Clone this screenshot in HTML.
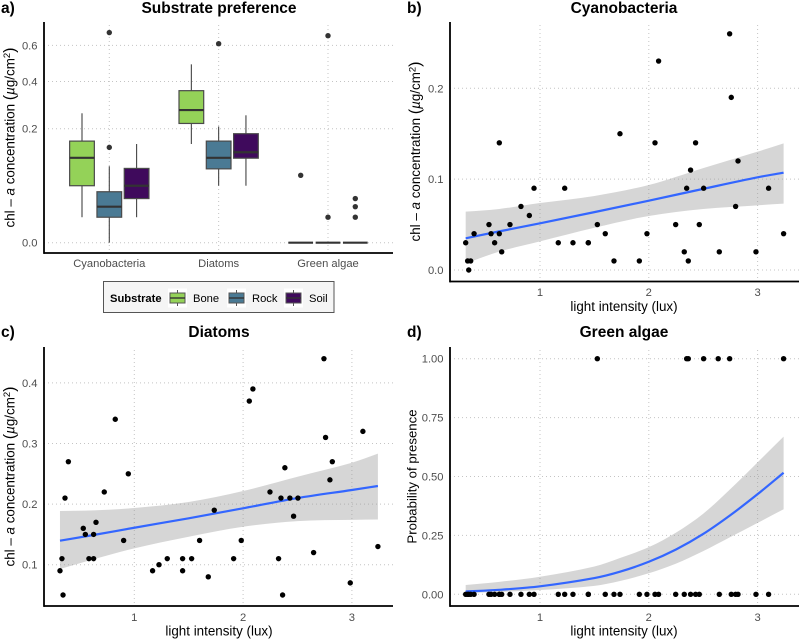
<!DOCTYPE html>
<html lang="en">
<head>
<meta charset="utf-8">
<title>Chlorophyll-a concentration panels</title>
<style>
html,body{margin:0;padding:0;background:#fff;}
svg{display:block;font-family:"Liberation Sans",sans-serif;}
.title{font-size:15.5px;font-weight:bold;fill:#000;text-anchor:middle;}
.tag{font-size:15.5px;font-weight:bold;fill:#000;}
.tick{font-size:11.2px;fill:#4d4d4d;}
.axt{font-size:13.4px;fill:#000;text-anchor:middle;}
.paren{font-size:16px;}
.leg{font-size:11.2px;fill:#000;}
</style>
</head>
<body>
<svg id="chart" xmlns="http://www.w3.org/2000/svg" width="800" height="639" viewBox="0 0 800 639">
  <rect x="0" y="0" width="800" height="639" fill="#fff"/>
  <g id="panel-a"></g>
  <g id="panel-b"></g>
  <g id="panel-c"></g>
  <g id="panel-d"></g>

  <text class="tag" x="1" y="13">a)</text>
  <text class="title" x="219" y="13">Substrate preference</text>
  <text class="axt" transform="translate(14.5,137.5) rotate(-90)">chl – <tspan font-style="italic">a</tspan> concentration <tspan class="paren">(</tspan><tspan font-style="italic">µ</tspan>g/cm<tspan font-size="9.5" dy="-4.5">2</tspan><tspan class="paren" dy="4.5">)</tspan></text>

  <text class="tag" x="407" y="13">b)</text>
  <text class="title" x="624" y="13">Cyanobacteria</text>
  <text class="axt" transform="translate(420,151.5) rotate(-90)">chl – <tspan font-style="italic">a</tspan> concentration <tspan class="paren">(</tspan><tspan font-style="italic">µ</tspan>g/cm<tspan font-size="9.5" dy="-4.5">2</tspan><tspan class="paren" dy="4.5">)</tspan></text>
  <text class="axt" x="624" y="311">light intensity (lux)</text>

  <text class="tag" x="1" y="337">c)</text>
  <text class="title" x="219" y="337">Diatoms</text>
  <text class="axt" transform="translate(14.5,476.5) rotate(-90)">chl – <tspan font-style="italic">a</tspan> concentration <tspan class="paren">(</tspan><tspan font-style="italic">µ</tspan>g/cm<tspan font-size="9.5" dy="-4.5">2</tspan><tspan class="paren" dy="4.5">)</tspan></text>
  <text class="axt" x="219" y="635.5">light intensity (lux)</text>

  <text class="tag" x="407" y="337">d)</text>
  <text class="title" x="624" y="337">Green algae</text>
  <text class="axt" font-size="13.2" style="font-size:13.2px" transform="translate(416.5,476.5) rotate(-90)">Probability of presence</text>
  <text class="axt" x="624" y="635.5">light intensity (lux)</text>

  <g id="legend"></g>
</svg>

<script>
// ---- Panel a data (indexed [group][substrate]) ----
const groups = ['Cyanobacteria', 'Diatoms', 'Green algae'];
const substrates = ['Bone', 'Rock', 'Soil'];
const substrateColors = ['#94d258', '#4a7a94', '#3f0a5c'];
const boxLow = [[0.01, 0, 0.01], [0.15, 0.05, 0.05], [0, 0, 0]];
const boxQ1 = [[0.05, 0.01, 0.03], [0.219, 0.084, 0.11], [0, 0, 0]];
const boxMedian = [[0.111, 0.02, 0.05], [0.271, 0.111, 0.126], [0, 0, 0]];
const boxQ3 = [[0.159, 0.04, 0.085], [0.356, 0.159, 0.183], [0, 0, 0]];
const boxHigh = [[0.258, 0.09, 0.15], [0.49, 0.208, 0.25], [0, 0, 0]];
const outlierGroup = [0, 0, 1, 2, 2, 2, 2, 2, 2];
const outlierSubstrate = [1, 1, 1, 0, 1, 1, 2, 2, 2];
const outlierValue = [0.68, 0.14, 0.61, 0.07, 0.66, 0.01, 0.03, 0.02, 0.01];
const ticksA = [0, 0.2, 0.4, 0.6];
const tickLabelsA = ['0.0', '0.2', '0.4', '0.6'];

// ---- Shared scatter data ----
const light = [0.317, 0.335, 0.345, 0.363, 0.394, 0.531, 0.55, 0.583, 0.626, 0.626, 0.648, 0.724, 0.825, 0.902, 0.945, 1.168, 1.227, 1.303, 1.444, 1.444, 1.527, 1.6, 1.68, 1.735, 1.913, 1.983, 2.057, 2.09, 2.247, 2.326, 2.348, 2.363, 2.384, 2.43, 2.464, 2.504, 2.648, 2.743, 2.758, 2.798, 2.82, 2.985, 3.101, 3.239];
const cyanoValues = [0.03, 0.01, 0, 0.01, 0.04, 0.05, 0.04, 0.03, 0.04, 0.14, 0.02, 0.05, 0.07, 0.06, 0.09, 0.03, 0.09, 0.03, 0.03, 0.03, 0.05, 0.04, 0.01, 0.15, 0.01, 0.04, 0.14, 0.23, 0.05, 0.02, 0.09, 0.01, 0.11, 0.14, 0.05, 0.09, 0.02, 0.26, 0.19, 0.07, 0.12, 0.02, 0.09, 0.04];
const diatomValues = [0.09, 0.11, 0.05, 0.21, 0.27, 0.16, 0.15, 0.11, 0.15, 0.11, 0.17, 0.22, 0.34, 0.14, 0.25, 0.09, 0.10, 0.11, 0.11, 0.09, 0.11, 0.14, 0.08, 0.19, 0.11, 0.14, 0.37, 0.39, 0.22, 0.11, 0.21, 0.05, 0.26, 0.21, 0.18, 0.21, 0.12, 0.44, 0.31, 0.24, 0.27, 0.07, 0.32, 0.13];
const greenPresence = [0, 0, 0, 0, 0, 0, 0, 0, 0, 0, 0, 0, 0, 0, 0, 0, 0, 0, 0, 0, 1, 0, 0, 0, 0, 0, 0, 0, 0, 0, 1, 1, 0, 0, 0, 1, 0, 1, 0, 0, 0, 0, 0, 1];
const extraPresentLight = [2.638];

// ---- Fitted curves ----
const fitLightBC = [0.317, 0.625, 1, 1.5, 2, 2.5, 3, 3.239];
const cyanoFit = [0.0349, 0.0425, 0.0514, 0.0637, 0.0763, 0.0893, 0.102, 0.1071];
const cyanoUpper = [0.0642, 0.0672, 0.0737, 0.0815, 0.0936, 0.1122, 0.1303, 0.1394];
const cyanoLower = [0.0073, 0.0202, 0.0315, 0.0465, 0.0595, 0.0672, 0.0712, 0.073];
const diatomFit = [0.1396, 0.149, 0.161, 0.1766, 0.1931, 0.21, 0.2233, 0.2299];
const diatomUpper = [0.1886, 0.1897, 0.1936, 0.2035, 0.2216, 0.2452, 0.2683, 0.2832];
const diatomLower = [0.0929, 0.109, 0.127, 0.1462, 0.1627, 0.172, 0.174, 0.1745];
const fitLightD = [0.317, 0.625, 1, 1.5, 1.735, 2, 2.25, 2.5, 2.75, 3, 3.239];
const greenFit = [0.012, 0.019, 0.034, 0.069, 0.096, 0.138, 0.19, 0.256, 0.336, 0.425, 0.516];
const greenUpper = [0.0395, 0.053, 0.0747, 0.118, 0.154, 0.2, 0.262, 0.342, 0.447, 0.56, 0.669];
const greenLower = [0.0055, 0.0105, 0.0183, 0.036, 0.0565, 0.0891, 0.13, 0.183, 0.243, 0.303, 0.361];

// ---- Tick arrays ----
const lightTicks = [1, 2, 3];
const lightTickLabels = ['1', '2', '3'];
const ticksB = [0, 0.1, 0.2];
const tickLabelsB = ['0.0', '0.1', '0.2'];
const ticksC = [0.1, 0.2, 0.3, 0.4];
const tickLabelsC = ['0.1', '0.2', '0.3', '0.4'];
const ticksD = [0, 0.25, 0.5, 0.75, 1];
const tickLabelsD = ['0.00', '0.25', '0.50', '0.75', '1.00'];

// ---- Axis functions ----
const xA = g => 109.3 + g * 109.35;
const yA = v => 242.7 - Math.sqrt(v) * 254.8;
const xLeft = v => 134.3 + (v - 1) * 108.8;
const xRight = v => 540 + (v - 1) * 108.8;
const yB = v => 270 - v * 908.5;
const yC = v => 564.7 - (v - 0.1) * 606;
const yD = v => 594.3 - v * 235.6;

const NS = 'http://www.w3.org/2000/svg';
function mk(parent, tag, props) {
  const el = document.createElementNS(NS, tag);
  for (const k in props) el.setAttribute(k, props[k]);
  parent.appendChild(el);
  return el;
}

// Smooth curve segments through [x, y] screen points, with tangents from
// finite differences so unevenly spaced readings do not cause wiggles.
function curveSegments(p) {
  const slope = i => {
    const a = p[Math.max(i - 1, 0)], b = p[Math.min(i + 1, p.length - 1)];
    return (b[1] - a[1]) / (b[0] - a[0]);
  };
  let d = '';
  for (let i = 0; i < p.length - 1; i++) {
    const p1 = p[i], p2 = p[i + 1];
    const dx = (p2[0] - p1[0]) / 3;
    d += ' C' + (p1[0] + dx) + ' ' + (p1[1] + slope(i) * dx) + ' ' +
      (p2[0] - dx) + ' ' + (p2[1] - slope(i + 1) * dx) + ' ' + p2[0] + ' ' + p2[1];
  }
  return d;
}

function drawFrame(g, prefix, left, right, top, bottom, xTicks, xLabels, xs, yTicks, yLabels, ys, labelY) {
  yTicks.forEach((t, i) => {
    const gl = mk(g, 'line', {x1: left, x2: right, y1: ys(t), y2: ys(t), stroke: '#c4c4c4', 'stroke-width': 1, 'stroke-dasharray': '1 3'});
    
    
    const lb = mk(g, 'text', {x: left - 6.5, y: ys(t) + 4, 'text-anchor': 'end', class: 'tick'});
    lb.textContent = yLabels[i];
    
    
  });
  xTicks.forEach((t, i) => {
    const gl = mk(g, 'line', {x1: xs(t), x2: xs(t), y1: top, y2: bottom, stroke: '#c4c4c4', 'stroke-width': 1, 'stroke-dasharray': '1 3'});
    
    
    const lb = mk(g, 'text', {x: xs(t), y: labelY, 'text-anchor': 'middle', class: 'tick'});
    lb.textContent = xLabels[i];
    
    
  });
}

function drawAxes(g, prefix, left, right, top, bottom) {
  const ya = mk(g, 'line', {x1: left, x2: left, y1: top, y2: bottom + 0.9, stroke: '#000', 'stroke-width': 1.8});
  
  
  const xa = mk(g, 'line', {x1: left, x2: right, y1: bottom, y2: bottom, stroke: '#000', 'stroke-width': 1.8});
  
  
}

function drawFit(g, prefix, fx, fit, upper, lower, xs, ys) {
  const upperPts = fx.map((x, i) => [xs(x), ys(upper[i])]);
  const lowerPts = fx.map((x, i) => [xs(x), ys(lower[i])]);
  const fitPts = fx.map((x, i) => [xs(x), ys(fit[i])]);
  // The lower edge is traced right-to-left; negate x for the tangent helper by rebuilding in reverse.
  const lowerRev = lowerPts.slice().reverse();
  const bandPath = 'M' + upperPts[0][0] + ' ' + upperPts[0][1] + curveSegments(upperPts) +
    ' L' + lowerRev[0][0] + ' ' + lowerRev[0][1] + curveSegments(lowerRev) + ' Z';
  const band = mk(g, 'path', {d: bandPath, fill: '#999999', 'fill-opacity': 0.4});
  
  
  const linePath = 'M' + fitPts[0][0] + ' ' + fitPts[0][1] + curveSegments(fitPts);
  const line = mk(g, 'path', {d: linePath, fill: 'none', stroke: '#3366FF', 'stroke-width': 2.2, 'stroke-linejoin': 'round'});
  
  
}

function drawPoints(g, prefix, px, py, xs, ys) {
  px.forEach((x, i) => {
    const c = mk(g, 'circle', {cx: xs(x), cy: ys(py[i]), r: 2.7, fill: '#000'});
    
    
  });
}

// ---- Panel a ----
const pa = document.getElementById('panel-a');
drawFrame(pa, 'panel-a', 44, 393, 25, 253, [0, 1, 2], groups, xA, ticksA, tickLabelsA, yA, 267);
const offset = 27.3, boxW = 24.7;
groups.forEach((grp, gi) => {
  substrates.forEach((sub, si) => {
    const cx = xA(gi) + (si - 1) * offset;
    const whisk = mk(pa, 'line', {x1: cx, x2: cx, y1: yA(boxLow[gi][si]), y2: yA(boxHigh[gi][si]), stroke: '#444', 'stroke-width': 1.1});
    
    
    const h = yA(boxQ1[gi][si]) - yA(boxQ3[gi][si]);
    const bx = mk(pa, 'rect', {x: cx - boxW / 2, y: yA(boxQ3[gi][si]), width: boxW, height: h, fill: substrateColors[si], stroke: '#4a4a4a', 'stroke-width': 1.2});
    
    
    const md = mk(pa, 'line', {x1: cx - boxW / 2, x2: cx + boxW / 2, y1: yA(boxMedian[gi][si]), y2: yA(boxMedian[gi][si]), stroke: '#333', 'stroke-width': 2.2});
    
    
  });
});
outlierValue.forEach((v, i) => {
  const cx = xA(outlierGroup[i]) + (outlierSubstrate[i] - 1) * offset;
  const c = mk(pa, 'circle', {cx: cx, cy: yA(v), r: 2.7, fill: '#333'});
  
  
});
drawAxes(pa, 'panel-a', 44, 393, 22, 253);

// ---- Panel b ----
const pb = document.getElementById('panel-b');
drawFrame(pb, 'panel-b', 450, 799, 25, 281, lightTicks, lightTickLabels, xRight, ticksB, tickLabelsB, yB, 296);
drawFit(pb, 'panel-b', fitLightBC, cyanoFit, cyanoUpper, cyanoLower, xRight, yB);
drawPoints(pb, 'panel-b', light, cyanoValues, xRight, yB);
drawAxes(pb, 'panel-b', 450, 799, 22, 281.5);

// ---- Panel c ----
const pc = document.getElementById('panel-c');
drawFrame(pc, 'panel-c', 44, 393, 350, 606, lightTicks, lightTickLabels, xLeft, ticksC, tickLabelsC, yC, 621);
drawFit(pc, 'panel-c', fitLightBC, diatomFit, diatomUpper, diatomLower, xLeft, yC);
drawPoints(pc, 'panel-c', light, diatomValues, xLeft, yC);
drawAxes(pc, 'panel-c', 44, 393, 347, 606);

// ---- Panel d ----
const pd = document.getElementById('panel-d');
drawFrame(pd, 'panel-d', 450, 799, 350, 606, lightTicks, lightTickLabels, xRight, ticksD, tickLabelsD, yD, 621);
drawFit(pd, 'panel-d', fitLightD, greenFit, greenUpper, greenLower, xRight, yD);
drawPoints(pd, 'panel-d', light.concat(extraPresentLight), greenPresence.concat(extraPresentLight.map(() => 1)), xRight, yD);
drawAxes(pd, 'panel-d', 450, 799, 347, 606);

// ---- Legend ----
const lg = document.getElementById('legend');
const frame = mk(lg, 'rect', {x: 103.5, y: 281.5, width: 230.5, height: 31, fill: '#f5f5f5', stroke: '#555', 'stroke-width': 1});


const lgTitle = mk(lg, 'text', {x: 110, y: 302, 'font-weight': 'bold', class: 'leg'});
lgTitle.textContent = 'Substrate';


const keyLeft = [170, 229, 286];
const labelLeft = [193, 252, 309];
substrates.forEach((sub, i) => {
  const bg = mk(lg, 'rect', {x: keyLeft[i] - 2, y: 288.5, width: 19, height: 19, fill: '#fff'});
  
  
  const w = mk(lg, 'line', {x1: keyLeft[i] + 7.5, x2: keyLeft[i] + 7.5, y1: 290, y2: 306, stroke: '#555', 'stroke-width': 1});
  
  
  const b = mk(lg, 'rect', {x: keyLeft[i], y: 293, width: 15, height: 10, fill: substrateColors[i], stroke: '#555', 'stroke-width': 1});
  
  
  const m = mk(lg, 'line', {x1: keyLeft[i], x2: keyLeft[i] + 15, y1: 298, y2: 298, stroke: '#333', 'stroke-width': 1.4});
  
  
  const t = mk(lg, 'text', {x: labelLeft[i], y: 302, class: 'leg'});
  t.textContent = sub;
  
  
});
</script>
</body>
</html>
